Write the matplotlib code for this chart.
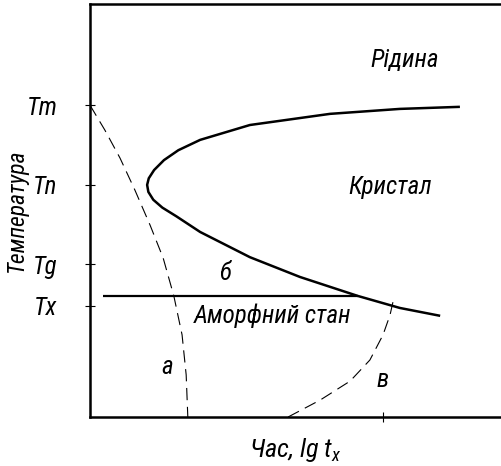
import matplotlib
matplotlib.use("Agg")
import matplotlib.pyplot as plt

plt.rcParams['font.family'] = ['Roboto Condensed', 'DejaVu Sans']
plt.rcParams['font.style'] = 'italic'
plt.rcParams['mathtext.fontset'] = 'custom'
plt.rcParams['mathtext.it'] = 'Roboto Condensed:italic'
plt.rcParams['mathtext.rm'] = 'Roboto Condensed:italic'

# characteristic temperatures (arbitrary units)
temp_ticks = [75.5, 56.2, 37.0, 26.9]
temp_labels = ['Tm', 'Tn', 'Tg', 'Tx']
time_tick = [71.3]

# C-curve of crystallisation (time, temperature)
c_time = [90.0, 75.4, 58.4, 38.9, 26.8, 21.5, 18.0, 15.6, 14.3, 13.9,
          14.2, 15.4, 17.6, 21.0, 26.8, 38.9, 51.1, 65.2, 75.4, 85.2]
c_temp = [75.1, 74.6, 73.4, 70.7, 67.1, 64.6, 62.2, 59.8, 57.8, 56.2,
          54.5, 52.6, 50.7, 48.6, 44.8, 38.7, 33.9, 29.3, 26.4, 24.5]

# isothermal hold at Tx
hold_time = [3.2, 65.2]
hold_temp = [29.3, 29.3]

# cooling path "а"
a_time = [0.0, 3.6, 7.3, 10.9, 14.6, 17.8, 20.4, 22.4, 23.4, 23.8]
a_temp = [75.5, 69.5, 62.7, 55.0, 46.5, 38.5, 29.3, 19.9, 10.2, 0.0]

# heating path "в"
b_time = [48.2, 56.0, 63.3, 68.1, 71.3, 73.0, 73.7]
b_temp = [0.0, 4.1, 8.7, 13.8, 19.9, 24.7, 27.8]

fig = plt.figure(figsize=(5.01, 4.66), dpi=100)
ax = fig.add_axes([90 / 501, 49 / 466, 411 / 501, 413 / 466])
ax.set_xlim(0, 100)
ax.set_ylim(0, 100)

ax.plot(c_time, c_temp, color='black', lw=1.8, solid_capstyle='butt')
ax.plot(hold_time, hold_temp, color='black', lw=1.6, solid_capstyle='butt')
ax.plot(a_time, a_temp, color='black', lw=0.8, dashes=(11, 6))
ax.plot(b_time, b_temp, color='black', lw=0.8, dashes=(11, 6))

fs = 18
ax.text(76.6, 86.4, 'Рідина', fontsize=fs, ha='center', va='center')
ax.text(73.0, 55.7, 'Кристал', fontsize=fs, ha='center', va='center')
ax.text(32.8, 34.9, 'б', fontsize=fs, ha='center', va='center')
ax.text(44.3, 24.5, 'Аморфний стан', fontsize=fs, ha='center', va='center')
ax.text(18.7, 12.1, 'а', fontsize=fs, ha='center', va='center')
ax.text(71.3, 9.0, 'в', fontsize=fs, ha='center', va='center')

ax.set_yticks(temp_ticks)
ax.set_yticklabels(temp_labels, fontsize=18)
ax.set_xticks(time_tick)
ax.set_xticklabels([''])
ax.tick_params(axis='y', direction='inout', length=7, width=0.8, pad=20)
ax.tick_params(axis='x', direction='inout', length=7, width=0.8)

ax.set_xlabel('Час, lg $t_x$', fontsize=19, labelpad=7)
ax.set_ylabel('Температура', fontsize=17, va='center')
ax.yaxis.set_label_coords(-0.180, 0.5)

for side in ['left', 'top', 'bottom']:
    ax.spines[side].set_linewidth(1.8)
ax.spines['right'].set_visible(False)

fig.savefig('out.png', dpi=100)
